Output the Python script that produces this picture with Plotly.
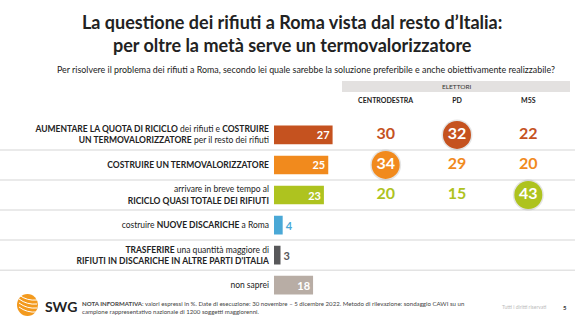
import plotly.graph_objects as go

W, H = 580, 326
def px(x): return x / W
def py(y): return 1 - y / H

FONT = "Lato, 'Open Sans', sans-serif"

labels = [
    "<b>AUMENTARE LA QUOTA DI RICICLO</b> dei rifiuti e <b>COSTRUIRE</b><br><b>UN TERMOVALORIZZATORE</b> per il resto dei rifiuti",
    "<b>COSTRUIRE UN TERMOVALORIZZATORE</b>",
    "arrivare in breve tempo al<br><b>RICICLO QUASI TOTALE DEI RIFIUTI</b>",
    "costruire <b>NUOVE DISCARICHE</b> a Roma",
    "<b>TRASFERIRE</b> una quantità maggiore di<br><b>RIFIUTI IN DISCARICHE IN ALTRE PARTI D'ITALIA</b>",
    "non saprei",
]
totale = [27, 25, 23, 4, 3, 18]
colors = ["#C5521F", "#F18A1D", "#AEC31F", "#4AA8D6", "#58585A", "#B8ADA5"]

parties = ["CENTRODESTRA", "PD", "M5S"]
centrodestra = [30, 34, 20]
pd_vals = [32, 29, 15]
m5s = [22, 20, 43]
highlight = [1, 0, 2]  # index of party highlighted per row

fig = go.Figure()

text_pos = ["inside" if v >= 10 else "outside" for v in totale]
fig.add_trace(go.Bar(
    x=totale, y=labels, orientation="h",
    marker=dict(color=colors, line=dict(width=0)),
    text=[str(v) for v in totale], textposition=text_pos,
    insidetextanchor="end", textangle=0, constraintext="none",
    insidetextfont=dict(color="white", size=11, family=FONT, weight="bold"),
    outsidetextfont=dict(color=colors, size=11, family=FONT, weight="bold"),
    cliponaxis=False, hoverinfo="skip", width=0.62,
))

for i in range(3):
    vals = [centrodestra[i], pd_vals[i], m5s[i]]
    sizes = [28 if j == highlight[i] else 0 for j in range(3)]
    tcol = ["white" if j == highlight[i] else colors[i] for j in range(3)]
    fig.add_trace(go.Scatter(
        x=parties, y=[labels[i]] * 3, xaxis="x2", yaxis="y", mode="markers",
        marker=dict(size=[s + 3 if s else 0 for s in sizes], color="rgba(0,0,0,0.10)",
                    line=dict(width=0), opacity=1),
        hoverinfo="skip", showlegend=False, cliponaxis=False,
    ))
    fig.add_trace(go.Scatter(
        x=parties, y=[labels[i]] * 3, xaxis="x2", yaxis="y", mode="markers+text",
        marker=dict(size=sizes, color=colors[i], line=dict(width=0), opacity=1),
        text=[str(v) for v in vals], textposition="middle center",
        textfont=dict(color=tcol, size=16, family=FONT, weight="bold"),
        hoverinfo="skip", showlegend=False, cliponaxis=False,
    ))

shapes = []
for k in range(5):
    shapes.append(dict(type="line", xref="paper", yref="y", x0=0, x1=px(575),
                       y0=k + 0.5, y1=k + 0.5, line=dict(color="#E3E3E3", width=1.5), layer="below"))
shapes.append(dict(type="rect", xref="paper", yref="paper", x0=px(342), x1=px(570),
                   y0=py(92), y1=py(81), fillcolor="#E3E1E0", line=dict(width=0), layer="below"))
# logo
shapes.append(dict(type="circle", xref="paper", yref="paper", x0=px(17), x1=px(38),
                   y0=py(316), y1=py(294), fillcolor="#F39A1E", line=dict(width=0)))
for d in [-5, -1, 3, 7]:
    shapes.append(dict(type="path", xref="paper", yref="paper",
                       path=f"M {px(19)} {py(300+d)} Q {px(27)} {py(306+d)} {px(37)} {py(305+d)}",
                       line=dict(color="white", width=1)))

def A(text, x, y, size, color="#222222", xanchor="center", align="center"):
    return dict(text=text, x=px(x), y=py(y), xref="paper", yref="paper", showarrow=False,
                xanchor=xanchor, yanchor="middle", align=align,
                font=dict(size=size, color=color, family=FONT))

ann = [
    A("<b>La questione dei rifiuti a Roma vista dal resto d’Italia:</b><br><b>per oltre la metà serve un termovalorizzatore</b>",
      292, 34, 18),
    A("Per risolvere il problema dei rifiuti a Roma, secondo lei quale sarebbe la soluzione preferibile e anche obiettivamente realizzabile?",
      306, 69, 8.9, "#222222"),
    A("ELETTORI", 457, 86.5, 6.5, "#333333"),
    A("<b>SWG</b>", 43, 306, 14, "#222222", xanchor="left"),
    A("<b>NOTA INFORMATIVA</b>: valori espressi in %. Date di esecuzione: 30 novembre – 5 dicembre 2022. Metodo di rilevazione: sondaggio CAWI su un<br>campione rappresentativo nazionale di 1200 soggetti maggiorenni.",
      80, 307.5, 6.1, "#444444", xanchor="left", align="left"),
    A("Tutti i diritti riservati", 524, 307, 5, "#BBBBBB"),
    A("<b>5</b>", 565, 307, 6, "#333333"),
]

fig.update_layout(
    width=W, height=H, margin=dict(l=0, r=0, t=0, b=0),
    paper_bgcolor="white", plot_bgcolor="rgba(0,0,0,0)",
    showlegend=False, shapes=shapes, annotations=ann,
    font=dict(family=FONT),
    xaxis=dict(domain=[px(274), px(491)], range=[0, 100], visible=False, fixedrange=True),
    xaxis2=dict(domain=[px(350), px(564)], type="category", categoryarray=parties,
                anchor="y", side="top", showgrid=False, zeroline=False, showline=False, ticks="",
                tickfont=dict(size=7, color="#222222", family=FONT, weight="bold"),
                ticklabelstandoff=0, range=[-0.5, 2.5]),
    yaxis=dict(domain=[py(300.2), py(105.8)], type="category", categoryarray=labels,
               autorange="reversed", showgrid=False, zeroline=False, showline=False, ticks="",
               tickfont=dict(size=8.5, color="#222222", family=FONT), ticklabelstandoff=4),
)

fig.write_html("out.html")
